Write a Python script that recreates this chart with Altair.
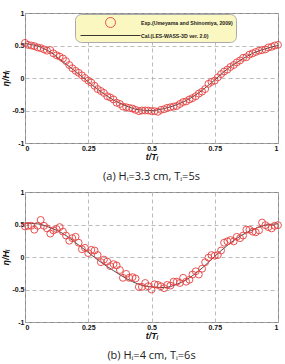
import altair as alt
import pandas as pd

EXP = "Exp.(Umeyama and Shinomiya, 2009)"
CAL = "Cal.(LES-WASS-3D ver. 2.0)"

# ---- panel (a) ----
a_exp_t = [0.000, 0.012, 0.025, 0.037, 0.050, 0.062, 0.075, 0.087, 0.100, 0.112, 0.125, 0.137,
           0.150, 0.162, 0.175, 0.187, 0.200, 0.212, 0.225, 0.237, 0.250, 0.262, 0.275, 0.287,
           0.300, 0.312, 0.325, 0.337, 0.350, 0.362, 0.375, 0.387, 0.400, 0.412, 0.425, 0.437,
           0.450, 0.462, 0.475, 0.487, 0.500, 0.512, 0.525, 0.537, 0.550, 0.562, 0.575, 0.587,
           0.600, 0.612, 0.625, 0.637, 0.650, 0.662, 0.675, 0.687, 0.700, 0.712, 0.725, 0.737,
           0.750, 0.762, 0.775, 0.787, 0.800, 0.812, 0.825, 0.837, 0.850, 0.862, 0.875, 0.887,
           0.900, 0.912, 0.925, 0.937, 0.950, 0.962, 0.975, 0.987, 1.000]
a_exp_v = [0.54, 0.51, 0.50, 0.49, 0.47, 0.46, 0.44, 0.42, 0.43, 0.38, 0.35, 0.33,
           0.30, 0.26, 0.20, 0.15, 0.11, 0.08, 0.04, 0.00, -0.04, -0.07, -0.12, -0.17,
           -0.20, -0.23, -0.28, -0.30, -0.33, -0.38, -0.40, -0.44, -0.45, -0.46, -0.47, -0.49,
           -0.51, -0.50, -0.50, -0.50, -0.51, -0.51, -0.52, -0.49, -0.48, -0.46, -0.45, -0.44,
           -0.43, -0.40, -0.37, -0.36, -0.33, -0.31, -0.28, -0.24, -0.21, -0.17, -0.09, -0.06,
           -0.04, 0.01, 0.06, 0.10, 0.13, 0.17, 0.20, 0.24, 0.27, 0.31, 0.32, 0.36,
           0.38, 0.40, 0.42, 0.43, 0.44, 0.47, 0.48, 0.50, 0.51]
a_cal_t = [0.0, 0.05, 0.1, 0.15, 0.2, 0.25, 0.3, 0.35, 0.4, 0.45, 0.5,
           0.55, 0.6, 0.65, 0.7, 0.75, 0.8, 0.85, 0.9, 0.95, 1.0]
a_cal_v = [0.53, 0.49, 0.40, 0.25, 0.10, -0.06, -0.21, -0.34, -0.43, -0.49, -0.50,
           -0.47, -0.41, -0.32, -0.19, -0.03, 0.14, 0.27, 0.38, 0.45, 0.50]

# ---- panel (b) ----
b_exp_t = a_exp_t
b_exp_v = [0.47, 0.48, 0.48, 0.42, 0.48, 0.57, 0.48, 0.44, 0.36, 0.41, 0.43, 0.46,
           0.39, 0.33, 0.25, 0.29, 0.31, 0.22, 0.12, 0.14, 0.06, 0.11, 0.10, 0.03,
           -0.08, -0.04, -0.07, -0.14, -0.11, -0.13, -0.20, -0.32, -0.26, -0.32, -0.31, -0.33,
           -0.46, -0.46, -0.40, -0.45, -0.50, -0.42, -0.43, -0.45, -0.48, -0.43, -0.44, -0.38,
           -0.38, -0.40, -0.32, -0.38, -0.35, -0.27, -0.22, -0.27, -0.18, -0.08, -0.01, 0.03,
           0.02, 0.03, 0.10, 0.22, 0.24, 0.26, 0.24, 0.31, 0.29, 0.33, 0.42, 0.42,
           0.39, 0.38, 0.41, 0.53, 0.49, 0.46, 0.44, 0.48, 0.49]
b_cal_t = a_cal_t
b_cal_v = [0.52, 0.51, 0.45, 0.36, 0.22, 0.07, -0.08, -0.21, -0.33, -0.42, -0.46,
           -0.47, -0.42, -0.32, -0.17, 0.01, 0.18, 0.32, 0.42, 0.49, 0.51]

x_ticks = [0, 0.25, 0.5, 0.75, 1]
y_ticks = [-1, -0.5, 0, 0.5, 1]

RED = "#e8403f"
LINE_SYMBOL = "M-6,0L6,0"


def panel(exp_t, exp_v, cal_t, cal_v, caption):
    exp_df = pd.DataFrame({"t": exp_t, "v": exp_v, "s": EXP})
    cal_df = pd.DataFrame({"t": cal_t, "v": cal_v})
    x = alt.X("t:Q", scale=alt.Scale(domain=[0, 1], nice=False),
              axis=alt.Axis(values=x_ticks, title="t/Tᵢ", labelExpr="'' + datum.value"))
    y = alt.Y("v:Q", scale=alt.Scale(domain=[-1, 1], nice=False),
              axis=alt.Axis(values=y_ticks, title="η/Hᵢ", labelExpr="'' + datum.value"))
    leg = alt.Legend(title=None, orient="none", legendX=50, legendY=1)
    pts = alt.Chart(exp_df).mark_point(filled=False, strokeWidth=1, opacity=0.9, size=48).encode(
        x=x, y=y,
        color=alt.Color("s:N", scale=alt.Scale(domain=[EXP, CAL], range=[RED, "#222222"]),
                        legend=leg),
        shape=alt.Shape("s:N", scale=alt.Scale(domain=[EXP, CAL], range=["circle", LINE_SYMBOL]),
                        legend=leg),
    )
    line = alt.Chart(cal_df).mark_line(color="#333333", strokeWidth=0.9,
                                       interpolate="monotone").encode(x=x, y=y)
    return alt.layer(line, pts).properties(
        width=253, height=130,
        title=alt.TitleParams(caption, orient="bottom", fontSize=11, font="Open Sans",
                              fontWeight="normal", offset=10, color="#222"),
    )


top = panel(a_exp_t, a_exp_v, a_cal_t, a_cal_v, "(a)  Hᵢ=3.3 cm,  Tᵢ=5s")
bot = panel(b_exp_t, b_exp_v, b_cal_t, b_cal_v, "(b)  Hᵢ=4 cm,  Tᵢ=6s")

chart = alt.vconcat(top, bot, spacing=4).properties(
    padding={"left": 1, "top": 8, "right": 1, "bottom": 0},
    background="white",
).configure_view(stroke="#888888", strokeWidth=1).configure_axis(
    grid=True, gridColor="#aaaaaa", gridDash=[4, 3], gridWidth=0.8,
    domain=False, ticks=False,
    labelFont="Liberation Sans", labelFontSize=7, labelFontWeight="bold", labelColor="#111",
    labelPadding=1,
    titleFont="Liberation Sans", titleFontSize=9, titleFontWeight="bold",
    titleFontStyle="italic", titleColor="#111", titlePadding=1,
).configure_legend(
    fillColor="#fbf7c0", strokeColor="#aaaaaa", cornerRadius=6, padding=3,
    labelFont="Liberation Sans", labelFontSize=5.2, labelFontWeight="bold", labelColor="#222",
    symbolStrokeWidth=1, rowPadding=0, symbolOffset=27, labelOffset=25,
)

chart.save("out.html", embed_options={"renderer": "svg", "actions": False})
